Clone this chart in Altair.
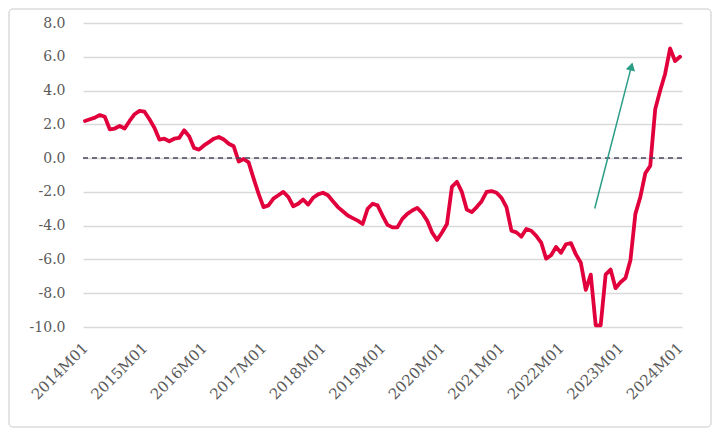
import altair as alt
import pandas as pd

# monthly categories 2014M01 .. 2024M01
months = [f"{y}M{m:02d}" for y in range(2014, 2025) for m in range(1, 13)][:121]

values = [
    2.2, 2.3, 2.4, 2.55, 2.45, 1.7, 1.75, 1.9, 1.75, 2.2, 2.6, 2.8,          # 2014
    2.75, 2.3, 1.8, 1.1, 1.15, 1.0, 1.15, 1.2, 1.65, 1.3, 0.6, 0.5,          # 2015
    0.75, 0.95, 1.15, 1.25, 1.1, 0.85, 0.7, -0.2, -0.05, -0.25, -1.2, -2.1,  # 2016
    -2.9, -2.8, -2.4, -2.2, -2.0, -2.3, -2.85, -2.7, -2.45, -2.75, -2.35, -2.15,  # 2017
    -2.05, -2.2, -2.55, -2.9, -3.15, -3.4, -3.55, -3.7, -3.9, -3.0, -2.7, -2.8,   # 2018
    -3.4, -3.95, -4.1, -4.1, -3.6, -3.3, -3.1, -2.95, -3.25, -3.7, -4.4, -4.85,   # 2019
    -4.4, -3.9, -1.7, -1.4, -2.0, -3.05, -3.2, -2.9, -2.55, -2.0, -1.95, -2.05,   # 2020
    -2.35, -2.9, -4.3, -4.4, -4.65, -4.2, -4.3, -4.6, -5.0, -5.95, -5.75, -5.26,  # 2021
    -5.6, -5.1, -5.03, -5.7, -6.2, -7.8, -6.9, -9.9, -9.9, -6.9, -6.6, -7.7,      # 2022
    -7.35, -7.1, -6.05, -3.3, -2.3, -0.9, -0.45, 2.9, 4.0, 5.0, 6.5, 5.75,        # 2023
    6.0,                                                                          # 2024
]

y_ticks = [-10, -8, -6, -4, -2, 0, 2, 4, 6, 8]
x_ticks = [0, 12, 24, 36, 48, 60, 72, 84, 96, 108, 120]

# annotation arrow (month index, value): tail and head
arrow_i = [102.8, 110.2]
arrow_v = [-2.98, 5.43]

df = pd.DataFrame({"i": list(range(len(values))), "month": months, "v": values})

W, H = 599, 304
RED = "#E1003C"
TEAL = "#2A9D86"
FONT = "DejaVu Serif"

x_scale = alt.Scale(domain=[-0.4, 120.4], nice=False, zero=False)
y_scale = alt.Scale(domain=[-10, 8], nice=False, zero=False)

x_axis = alt.Axis(
    values=x_ticks,
    labelExpr="toString(2014 + datum.value / 12) + 'M01'",
    labelAngle=-45,
    labelAlign="right",
    labelBaseline="middle",
    labelPadding=18,
    labelFontSize=15,
    labelFont=FONT,
    labelColor="#5a5a5a",
    labelOverlap=False,
    labelBound=False,
    labelFlush=False,
    grid=False,
    ticks=False,
    domain=False,
    title=None,
)
y_axis = alt.Axis(
    values=y_ticks,
    labelExpr="(datum.value < 0 ? '-' : '') + format(abs(datum.value), '.1f')",
    labelPadding=18,
    labelFontSize=14,
    labelFont=FONT,
    labelColor="#5a5a5a",
    labelOverlap=False,
    grid=True,
    gridColor="#d9d9d9",
    gridWidth=1.5,
    ticks=False,
    domain=False,
    title=None,
)

border = alt.Chart(pd.DataFrame({"a": [0]})).mark_rect(
    fill=None, stroke="#dcdcdc", strokeWidth=1.5, cornerRadius=4
).encode(
    x=alt.value(-74), x2=alt.value(W + 29), y=alt.value(-14), y2=alt.value(H + 100)
)

line = alt.Chart(df).mark_line(color=RED, strokeWidth=3.8, strokeJoin="round", strokeCap="round").encode(
    x=alt.X("i:Q", scale=x_scale, axis=x_axis),
    y=alt.Y("v:Q", scale=y_scale, axis=y_axis),
)

zero = alt.Chart(pd.DataFrame({"v": [0]})).mark_rule(
    color="#45475f", strokeDash=[5, 4], strokeWidth=1.5
).encode(y=alt.Y("v:Q", scale=y_scale, axis=y_axis))

arrow_df = pd.DataFrame({"i": [arrow_i[0]], "v": [arrow_v[0]], "i2": [arrow_i[1]], "v2": [arrow_v[1]]})
arrow_shaft = alt.Chart(arrow_df).mark_rule(color=TEAL, strokeWidth=1.5).encode(
    x=alt.X("i:Q", scale=x_scale, axis=x_axis),
    y=alt.Y("v:Q", scale=y_scale, axis=y_axis),
    x2="i2:Q",
    y2="v2:Q",
)
arrow_head = alt.Chart(pd.DataFrame({"i": [arrow_i[1]], "v": [arrow_v[1]]})).mark_point(
    shape="triangle-up", filled=True, color=TEAL, opacity=1, size=90, angle=14
).encode(
    x=alt.X("i:Q", scale=x_scale, axis=x_axis),
    y=alt.Y("v:Q", scale=y_scale, axis=y_axis),
)

chart = alt.layer(line, border, zero, arrow_shaft, arrow_head).properties(
    width=W,
    height=H,
    autosize=alt.AutoSizeParams(type="none"),
    padding={"left": 75, "top": 15, "right": 30, "bottom": 101},
    background="white",
).configure_view(strokeWidth=0)

chart.save("out.html", embed_options={"renderer": "svg", "actions": False})
